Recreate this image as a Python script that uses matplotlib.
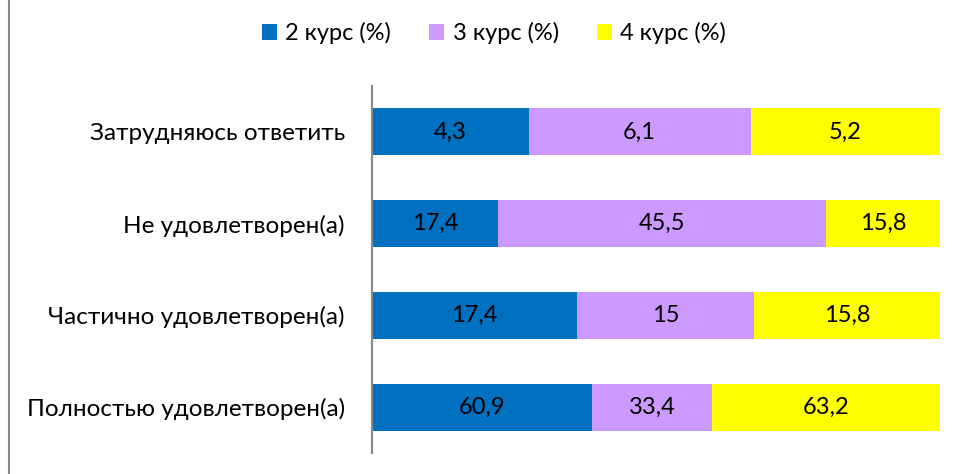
import numpy as np
import matplotlib
matplotlib.use("Agg")
import matplotlib.pyplot as plt
from matplotlib.lines import Line2D

categories = ["Затрудняюсь ответить", "Не удовлетворен(а)",
              "Частично удовлетворен(а)", "Полностью удовлетворен(а)"]
series_names = ["2 курс (%)", "3 курс (%)", "4 курс (%)"]
kurs2 = [4.3, 17.4, 17.4, 60.9]
kurs3 = [6.1, 45.5, 15, 33.4]
kurs4 = [5.2, 15.8, 15.8, 63.2]
colors = ["#0070C0", "#CC99FF", "#FFFF00"]

plt.rcParams['font.family'] = ['Lato', 'DejaVu Sans']
fs = 17

values = np.array([kurs2, kurs3, kurs4], dtype=float)
shares = values / values.sum(axis=0) * 100

fig = plt.figure(figsize=(9.57, 4.74), dpi=100)
ax = fig.add_axes([372/957, 21/474, 568/957, 367/474])

y = np.arange(len(categories))
left = np.zeros(len(categories))
for name, vals, share, col in zip(series_names, values, shares, colors):
    bars = ax.barh(y, share, left=left, height=0.51, color=col, label=name)
    for b, v in zip(bars, vals):
        txt = ("%g" % v).replace(".", ",")
        ax.text(b.get_x() + b.get_width() / 2, b.get_y() + b.get_height() / 2,
                txt, ha="center", va="center", fontsize=fs, color="black")
    left += share

ax.set_xlim(0, 100)
ax.set_ylim(-0.5, len(categories) - 0.5)
ax.invert_yaxis()
ax.set_yticks(y)
ax.set_yticklabels(categories, fontsize=17.5)
ax.tick_params(axis="y", length=0, pad=19.5)
ax.set_xticks([])
for s in ["top", "right", "bottom"]:
    ax.spines[s].set_visible(False)
ax.spines["left"].set_color("#888888")
ax.spines["left"].set_linewidth(1.5)

fig.legend(loc="center", bbox_to_anchor=(494/957, 1 - 33/474), ncol=3,
           frameon=False, fontsize=fs, handlelength=0.65, handleheight=0.65,
           handletextpad=0.35, columnspacing=1.6)

fig.add_artist(Line2D([9/957, 9/957], [0, 1], color="#888888", lw=1.5,
                      transform=fig.transFigure))

fig.savefig("out.png", dpi=100)
